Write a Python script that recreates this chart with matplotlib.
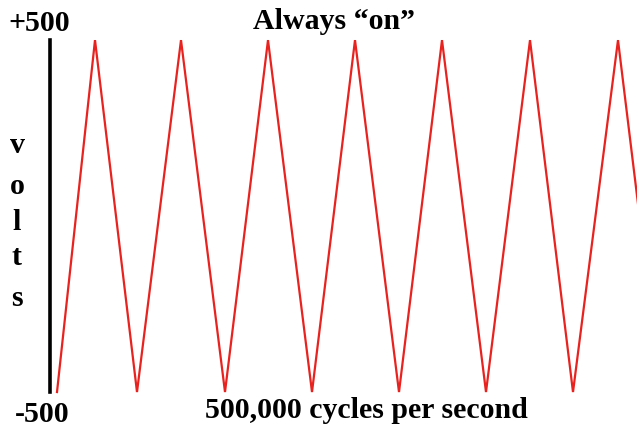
import matplotlib.pyplot as plt

# vertex positions of the triangle wave (horizontal units ~ pixels of the original)
t_vertices = [57, 95, 137, 181, 225, 268, 312, 355, 399, 442, 486, 530, 573, 618, 661]
volts = [-500, 500, -500, 500, -500, 500, -500, 500, -500, 500, -500, 500, -500, 500, -500]

letters = ['v', 'o', 'l', 't', 's']
letter_y = [200, 85, -17, -119, -233]

plt.rcParams['font.family'] = ['Liberation Serif', 'DejaVu Serif']

fig = plt.figure(figsize=(6.37, 4.29), dpi=100)
ax = fig.add_axes([0, 0, 1, 1])
ax.set_xlim(0, 637)
ax.set_ylim(-605, 614)
ax.axis('off')

ax.plot(t_vertices, volts, color='#e8231f', lw=1.6, solid_joinstyle='miter')
# vertical axis bar
ax.plot([50, 50], [500, -500], color='black', lw=2.6)

fs = 21.5
ax.text(8, 526, '+500', fontsize=fs, fontweight='bold', va='baseline', ha='left')
ax.text(15, -585, '-500', fontsize=fs, fontweight='bold', va='baseline', ha='left')
ax.text(334, 531, 'Always \u201con\u201d', fontsize=fs, fontweight='bold', va='baseline', ha='center')
ax.text(366, -574, '500,000 cycles per second', fontsize=fs, fontweight='bold', va='baseline', ha='center')

for ch, y in zip(letters, letter_y):
    ax.text(17, y, ch, fontsize=fs, fontweight='bold', va='center', ha='center')

fig.savefig('out.png', dpi=100, facecolor='white')
